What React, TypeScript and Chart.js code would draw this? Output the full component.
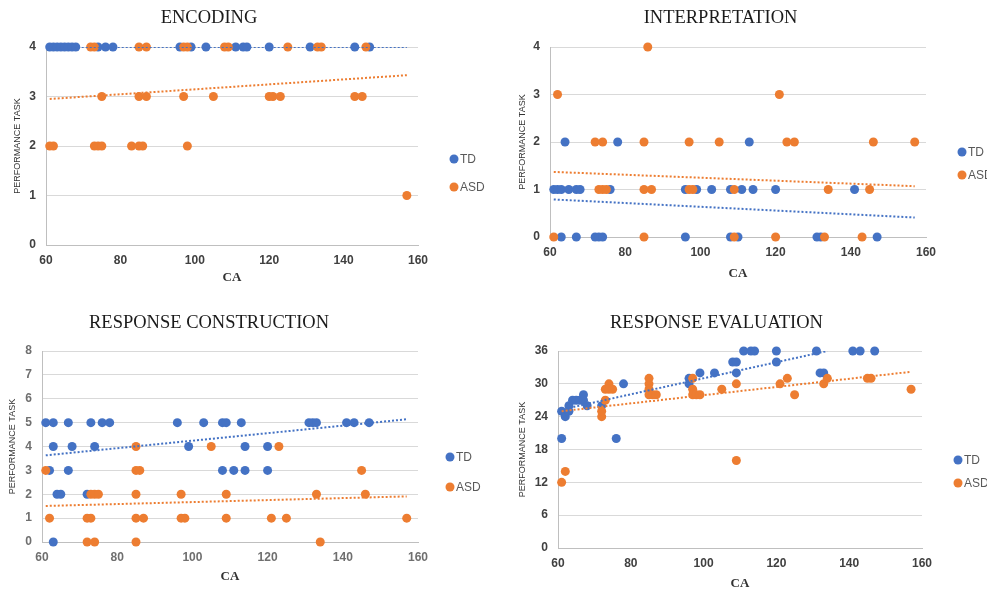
import React, { useEffect, useRef } from "react";
import { Chart, registerables } from "chart.js";

Chart.register(...registerables);

type Pt = [number, number];

const BLUE = "#4472C4";
const ORANGE = "#ED7D31";

const seriesLabels = ["TD", "ASD"];
const xTickRange = [60, 160, 20];

// ---------- ENCODING ----------
const encodingTD: Pt[] = [
  [61, 4], [62, 4], [63, 4], [64, 4], [65, 4], [66, 4], [67, 4], [68, 4], [74, 4], [76, 4], [78, 4],
  [96, 4], [99, 4], [103, 4], [111, 4], [113, 4], [114, 4], [120, 4], [131, 4], [143, 4], [147, 4],
];
const encodingASD: Pt[] = [
  [72, 4], [73, 4], [85, 4], [87, 4], [97, 4], [98, 4], [108, 4], [109, 4], [125, 4], [133, 4], [134, 4], [146, 4],
  [75, 3], [85, 3], [87, 3], [97, 3], [105, 3], [120, 3], [121, 3], [123, 3], [143, 3], [145, 3],
  [61, 2], [62, 2], [73, 2], [74, 2], [75, 2], [83, 2], [85, 2], [86, 2], [98, 2],
  [157, 1],
];
const encodingTrendTD: Pt[] = [[61, 4], [157, 4]];
const encodingTrendASD: Pt[] = [[61, 2.95], [157, 3.43]];
const encodingYRange = [0, 4, 1];

// ---------- INTERPRETATION ----------
const interpretationTD: Pt[] = [
  [64, 2], [78, 2], [113, 2],
  [61, 1], [62, 1], [63, 1], [65, 1], [67, 1], [68, 1], [76, 1], [96, 1], [99, 1], [103, 1], [108, 1], [111, 1], [114, 1], [120, 1], [141, 1],
  [63, 0], [67, 0], [72, 0], [73, 0], [74, 0], [96, 0], [108, 0], [110, 0], [131, 0], [132, 0], [147, 0],
];
const interpretationASD: Pt[] = [
  [86, 4],
  [62, 3], [121, 3],
  [72, 2], [74, 2], [85, 2], [97, 2], [105, 2], [123, 2], [125, 2], [146, 2], [157, 2],
  [73, 1], [74, 1], [75, 1], [85, 1], [87, 1], [97, 1], [98, 1], [109, 1], [134, 1], [145, 1],
  [61, 0], [85, 0], [109, 0], [120, 0], [133, 0], [143, 0],
];
const interpretationTrendTD: Pt[] = [[61, 0.79], [157, 0.41]];
const interpretationTrendASD: Pt[] = [[61, 1.37], [157, 1.07]];
const interpretationYRange = [0, 4, 1];

// ---------- RESPONSE CONSTRUCTION ----------
const constructionTD: Pt[] = [
  [61, 5], [63, 5], [67, 5], [73, 5], [76, 5], [78, 5], [96, 5], [103, 5], [108, 5], [109, 5], [113, 5], [131, 5], [132, 5], [133, 5], [141, 5], [143, 5], [147, 5],
  [63, 4], [68, 4], [74, 4], [99, 4], [114, 4], [120, 4],
  [62, 3], [67, 3], [108, 3], [111, 3], [114, 3], [120, 3],
  [64, 2], [65, 2], [72, 2],
  [63, 0],
];
const constructionASD: Pt[] = [
  [85, 4], [105, 4], [123, 4],
  [61, 3], [85, 3], [86, 3], [145, 3],
  [73, 2], [74, 2], [75, 2], [85, 2], [97, 2], [109, 2], [133, 2], [146, 2],
  [62, 1], [72, 1], [73, 1], [85, 1], [87, 1], [97, 1], [98, 1], [109, 1], [121, 1], [125, 1], [157, 1],
  [72, 0], [74, 0], [85, 0], [134, 0],
];
const constructionTrendTD: Pt[] = [[61, 3.63], [157, 5.14]];
const constructionTrendASD: Pt[] = [[61, 1.51], [157, 1.91]];
const constructionYRange = [0, 8, 1];

// ---------- RESPONSE EVALUATION ----------
const evaluationTD: Pt[] = [
  [61, 25], [61, 20], [62, 24], [63, 25], [63, 26], [64, 27], [65, 27], [66, 27], [67, 28], [67, 27], [68, 26],
  [72, 26], [76, 20], [78, 30], [96, 31], [96, 30], [99, 32], [103, 32], [108, 34], [109, 34], [109, 32],
  [111, 36], [113, 36], [114, 36], [120, 36], [120, 34], [131, 36], [132, 32], [133, 32], [141, 36], [143, 36], [147, 36],
];
const evaluationASD: Pt[] = [
  [61, 12], [62, 14], [72, 24], [72, 25], [73, 27], [73, 29], [74, 30], [74, 29], [75, 29],
  [85, 31], [85, 30], [85, 29], [85, 28], [86, 28], [87, 28], [97, 31], [97, 29], [97, 28], [98, 28], [99, 28],
  [105, 29], [109, 30], [109, 16], [121, 30], [123, 31], [125, 28], [133, 30], [134, 31], [145, 31], [146, 31], [157, 29],
];
const evaluationTrendTD: Pt[] = [[61, 25.3], [134, 36]];
const evaluationTrendASD: Pt[] = [[61, 25.0], [157, 32.2]];
const evaluationYRange = [0, 36, 6];

// ---------- layout (page coordinates) ----------
type PanelCfg = {
  title: string;
  td: Pt[];
  asd: Pt[];
  trendTD: Pt[];
  trendASD: Pt[];
  yRange: number[];
  canvas: { left: number; top: number; w: number; h: number };
  area: { l: number; t: number; r: number; b: number };
  titleY: number;
  yTitleX: number;
  xTitleY: number;
  legend: { x: number; y: number }[];
  tickColor: string;
};

const panels: PanelCfg[] = [
  {
    title: "ENCODING", td: encodingTD, asd: encodingASD, trendTD: encodingTrendTD, trendASD: encodingTrendASD,
    yRange: encodingYRange,
    canvas: { left: 0, top: 0, w: 492, h: 295 },
    area: { l: 46, t: 47, r: 418, b: 245 },
    titleY: 18, yTitleX: 18, xTitleY: 278,
    legend: [{ x: 454, y: 159 }, { x: 454, y: 187 }],
    tickColor: "#404040",
  },
  {
    title: "INTERPRETATION", td: interpretationTD, asd: interpretationASD, trendTD: interpretationTrendTD, trendASD: interpretationTrendASD,
    yRange: interpretationYRange,
    canvas: { left: 515, top: 0, w: 472, h: 295 },
    area: { l: 550, t: 47, r: 926, b: 237 },
    titleY: 18, yTitleX: 523, xTitleY: 274,
    legend: [{ x: 962, y: 152 }, { x: 962, y: 175 }],
    tickColor: "#404040",
  },
  {
    title: "RESPONSE CONSTRUCTION", td: constructionTD, asd: constructionASD, trendTD: constructionTrendTD, trendASD: constructionTrendASD,
    yRange: constructionYRange,
    canvas: { left: 0, top: 295, w: 486, h: 297 },
    area: { l: 42, t: 351, r: 418, b: 542 },
    titleY: 323, yTitleX: 13, xTitleY: 577,
    legend: [{ x: 450, y: 457 }, { x: 450, y: 487 }],
    tickColor: "#6f6f6f",
  },
  {
    title: "RESPONSE EVALUATION", td: evaluationTD, asd: evaluationASD, trendTD: evaluationTrendTD, trendASD: evaluationTrendASD,
    yRange: evaluationYRange,
    canvas: { left: 511, top: 295, w: 476, h: 297 },
    area: { l: 558, t: 351, r: 922, b: 548 },
    titleY: 323, yTitleX: 523, xTitleY: 584,
    legend: [{ x: 958, y: 460 }, { x: 958, y: 483 }],
    tickColor: "#404040",
  },
];

const sideLegend = {
  id: "sideLegend",
  afterDraw(chart: any, _args: any, opts: any) {
    const ctx = chart.ctx;
    ctx.save();
    (opts.items || []).forEach((it: any) => {
      ctx.beginPath();
      ctx.fillStyle = it.color;
      ctx.arc(it.x, it.y, 4.5, 0, Math.PI * 2);
      ctx.fill();
      ctx.fillStyle = "#595959";
      ctx.font = "12px 'Liberation Sans', Arial, sans-serif";
      ctx.textBaseline = "middle";
      ctx.textAlign = "left";
      ctx.fillText(it.text, it.x + 6, it.y + 1);
    });
    ctx.restore();
  },
};

function Panel({ cfg }: { cfg: PanelCfg }) {
  const ref = useRef<HTMLCanvasElement>(null);
  const c = cfg.canvas;
  useEffect(() => {
    const a = cfg.area;
    const titleSize = 18.5;
    const titleLH = titleSize * 1.2;
    const titlePadTop = cfg.titleY - c.top - titleLH / 2;
    const titlePadBottom = a.t - c.top - titlePadTop - titleLH;
    const yTitleSize = 9;
    const xTitleSize = 13;
    const yAxisW = a.l - c.left;
    const xAxisH = c.top + c.h - a.b;
    const dotStyle = (color: string) => ({
      pointRadius: 4.5,
      pointHoverRadius: 4.5,
      pointBorderWidth: 0,
      backgroundColor: color,
      borderColor: color,
      showLine: false,
      clip: false,
    });
    const trendStyle = (color: string) => ({
      showLine: true,
      pointRadius: 0,
      pointHoverRadius: 0,
      borderColor: color,
      backgroundColor: color,
      borderWidth: 2,
      borderDash: [2, 2],
      fill: false,
    });
    const toXY = (arr: Pt[]) => arr.map(([x, y]) => ({ x, y }));
    const chart = new Chart(ref.current as HTMLCanvasElement, {
      type: "scatter",
      data: {
        datasets: [
          { label: seriesLabels[0], data: toXY(cfg.td), order: 3, ...dotStyle(BLUE) },
          { label: seriesLabels[1], data: toXY(cfg.asd), order: 2, ...dotStyle(ORANGE) },
          { label: "trendTD", data: toXY(cfg.trendTD), order: 1, ...trendStyle(BLUE) },
          { label: "trendASD", data: toXY(cfg.trendASD), order: 0, ...trendStyle(ORANGE) },
        ] as any,
      },
      options: {
        responsive: false,
        animation: false,
        devicePixelRatio: 1,
        layout: { padding: { left: 0, top: 0, bottom: 0, right: c.left + c.w - a.r } },
        plugins: {
          legend: { display: false },
          tooltip: { enabled: false },
          title: {
            display: true,
            text: cfg.title,
            color: "#1a1a1a",
            font: { family: "'Liberation Serif', 'Times New Roman', serif", size: titleSize, weight: "normal", lineHeight: 1.2 },
            padding: { top: titlePadTop, bottom: titlePadBottom },
          },
          sideLegend: {
            items: [
              { x: cfg.legend[0].x - c.left, y: cfg.legend[0].y - c.top, color: BLUE, text: seriesLabels[0] },
              { x: cfg.legend[1].x - c.left, y: cfg.legend[1].y - c.top, color: ORANGE, text: seriesLabels[1] },
            ],
          },
        } as any,
        scales: {
          x: {
            type: "linear",
            min: xTickRange[0],
            max: xTickRange[1],
            afterFit: (s: any) => { s.height = xAxisH; },
            ticks: {
              stepSize: xTickRange[2],
              padding: 8,
              color: cfg.tickColor,
              font: { family: "'Liberation Sans', Arial, sans-serif", size: 12, weight: "bold" },
              maxRotation: 0,
            },
            grid: { display: false, drawTicks: false },
            border: { display: true, color: "#bfbfbf", width: 1 },
            title: {
              display: true,
              text: "CA",
              color: "#333333",
              font: { family: "'Liberation Serif', 'Times New Roman', serif", size: xTitleSize, weight: "bold", lineHeight: 1.2 },
              padding: { top: 0, bottom: Math.max(0, c.top + c.h - cfg.xTitleY - (xTitleSize * 1.2) / 2) },
            },
          },
          y: {
            type: "linear",
            min: cfg.yRange[0],
            max: cfg.yRange[1],
            afterFit: (s: any) => { s.width = yAxisW; },
            ticks: {
              stepSize: cfg.yRange[2],
              padding: 10,
              color: cfg.tickColor,
              font: { family: "'Liberation Sans', Arial, sans-serif", size: 12, weight: "bold" },
            },
            grid: { display: true, color: "#d9d9d9", lineWidth: 1, drawTicks: false },
            border: { display: true, color: "#bfbfbf", width: 1 },
            title: {
              display: true,
              text: "PERFORMANCE TASK",
              color: "#333333",
              font: { family: "'Liberation Sans', Arial, sans-serif", size: yTitleSize, weight: "normal", lineHeight: 1.2 },
              padding: { top: Math.max(0, cfg.yTitleX - c.left - (yTitleSize * 1.2) / 2), bottom: 0 },
            },
          },
        } as any,
      },
      plugins: [sideLegend],
    });
    return () => chart.destroy();
  }, []);
  return (
    <canvas
      ref={ref}
      width={c.w}
      height={c.h}
      style={{ position: "absolute", left: c.left, top: c.top, width: c.w, height: c.h }}
    />
  );
}

export default function App() {
  return (
    <div style={{ position: "absolute", left: 0, top: 0, width: 987, height: 592, background: "#ffffff", overflow: "hidden" }}>
      {panels.map((p) => (
        <Panel key={p.title} cfg={p} />
      ))}
    </div>
  );
}
